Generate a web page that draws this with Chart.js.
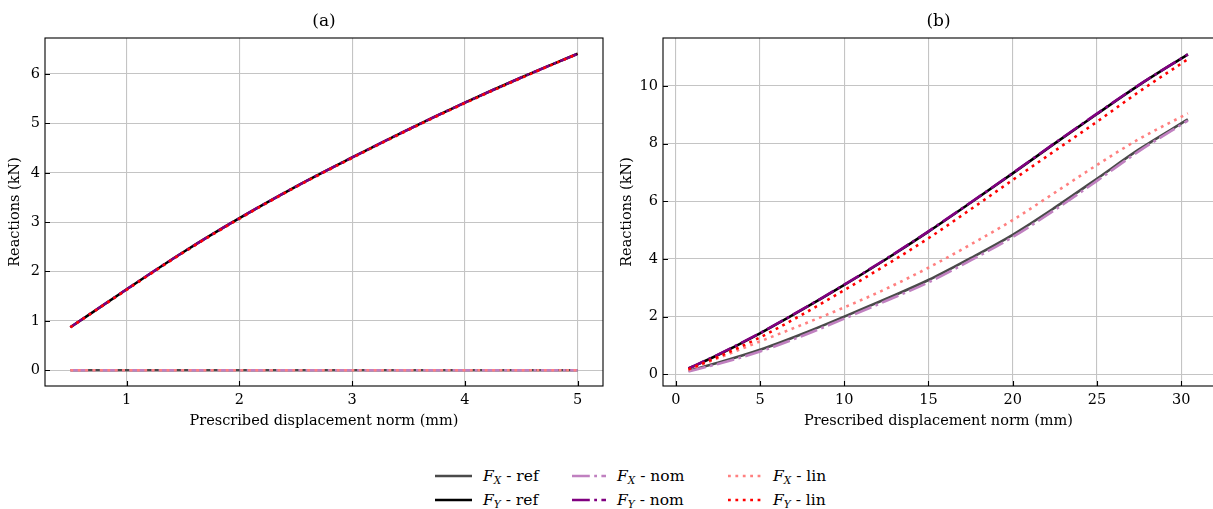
<!DOCTYPE html>
<html>
<head>
<meta charset="utf-8">
<script src="https://cdn.jsdelivr.net/npm/chart.js@4.4.1/dist/chart.umd.min.js"></script>
<style>
  html, body { margin: 0; padding: 0; background: #fff; overflow: hidden; }
  body { width: 1213px; height: 509px; position: relative; font-family: 'DejaVu Serif', 'Liberation Serif', serif; }
  .panel { position: absolute; top: 0; height: 440px; }
  #panelA { left: 0; width: 612px; }
  #panelB { left: 612px; width: 610px; }
  .legend-item { position: absolute; height: 20px; font-size: 15.5px; color: #000; white-space: nowrap; }
  .legend-item svg { position: absolute; left: 0; top: 0; }
  .legend-item span { position: absolute; top: 0; line-height: 20px; }
  .legend-item sub { font-size: 10.5px; vertical-align: -3px; }
</style>
</head>
<body>
<div class="panel" id="panelA"><canvas id="chartA"></canvas></div>
<div class="panel" id="panelB"><canvas id="chartB"></canvas></div>
<div id="legend"></div>

<script>
// (a) prescribed displacement norm (mm) and reactions (kN)
const dispA = [0.5, 1, 1.5, 2, 2.5, 3, 3.5, 4, 4.5, 5];
const fxRefA = [0, 0, 0, 0, 0, 0, 0, 0, 0, 0];
const fyRefA = [0.87, 1.64, 2.39, 3.08, 3.72, 4.31, 4.88, 5.42, 5.93, 6.41];
const fxNomA = [0, 0, 0, 0, 0, 0, 0, 0, 0, 0];
const fyNomA = [0.87, 1.64, 2.39, 3.08, 3.72, 4.31, 4.88, 5.42, 5.93, 6.41];
const fxLinA = [0, 0, 0, 0, 0, 0, 0, 0, 0, 0];
const fyLinA = [0.87, 1.63, 2.38, 3.07, 3.71, 4.30, 4.87, 5.41, 5.92, 6.41];

// (b)
const dispB = [0.75, 2.5, 5, 7.5, 10, 12.5, 15, 17.5, 20, 22.5, 25, 27.5, 30.4];
const fxRefB = [0.12, 0.40, 0.85, 1.40, 2.00, 2.62, 3.27, 4.03, 4.84, 5.78, 6.78, 7.80, 8.84];
const fyRefB = [0.20, 0.67, 1.42, 2.24, 3.10, 4.00, 4.95, 5.95, 6.97, 8.01, 9.03, 10.03, 11.10];
const fxNomB = [0.10, 0.36, 0.79, 1.33, 1.93, 2.55, 3.19, 3.95, 4.76, 5.70, 6.71, 7.74, 8.80];
const fyNomB = [0.20, 0.68, 1.43, 2.25, 3.11, 4.01, 4.96, 5.96, 6.98, 8.02, 9.04, 10.04, 11.10];
const fxLinB = [0.15, 0.56, 1.14, 1.72, 2.32, 2.97, 3.70, 4.50, 5.35, 6.30, 7.26, 8.16, 9.05];
const fyLinB = [0.17, 0.60, 1.28, 2.07, 2.92, 3.80, 4.72, 5.72, 6.74, 7.75, 8.76, 9.80, 10.93];

const xTicksA = [1, 2, 3, 4, 5];
const yTicksA = [0, 1, 2, 3, 4, 5, 6];
const xTicksB = [0, 5, 10, 15, 20, 25, 30];
const yTicksB = [0, 2, 4, 6, 8, 10];

const seriesStyle = {
  fxRef: { label: 'F_X - ref', color: '#4a4a4a', dash: [], order: 6 },
  fyRef: { label: 'F_Y - ref', color: '#000000', dash: [], order: 5 },
  fxNom: { label: 'F_X - nom', color: '#c080c0', dash: [17.8, 4.4, 2.8, 4.4], order: 4 },
  fyNom: { label: 'F_Y - nom', color: '#800080', dash: [17.8, 4.4, 2.8, 4.4], order: 3 },
  fxLin: { label: 'F_X - lin', color: '#ff8080', dash: [2.8, 4.6], order: 2 },
  fyLin: { label: 'F_Y - lin', color: '#ff0000', dash: [2.8, 4.6], order: 1 }
};

const serif = "'DejaVu Serif', 'Liberation Serif', serif";

function toPoints(xs, ys) {
  return xs.map((x, i) => ({ x: x, y: ys[i] }));
}

function makeDataset(key, xs, ys) {
  const s = seriesStyle[key];
  return {
    label: s.label,
    data: toPoints(xs, ys),
    showLine: true,
    borderColor: s.color,
    backgroundColor: s.color,
    borderWidth: 2.6,
    borderDash: s.dash,
    borderCapStyle: 'butt',
    pointRadius: 0,
    cubicInterpolationMode: 'monotone',
    order: s.order
  };
}

// box round the plot, inward tick marks and the panel letter
const framePlugin = {
  id: 'frame',
  afterDatasetsDraw(chart, args, opts) {
    const { ctx, chartArea: a, scales } = chart;
    ctx.save();
    ctx.strokeStyle = '#000';
    ctx.lineWidth = 1.1;
    ctx.strokeRect(a.left, a.top, a.right - a.left, a.bottom - a.top);
    ctx.beginPath();
    scales.x.ticks.forEach(t => {
      const px = Math.round(scales.x.getPixelForValue(t.value)) + 0.5;
      ctx.moveTo(px, a.bottom);
      ctx.lineTo(px, a.bottom - 5);
    });
    scales.y.ticks.forEach(t => {
      const py = Math.round(scales.y.getPixelForValue(t.value)) + 0.5;
      ctx.moveTo(a.left, py);
      ctx.lineTo(a.left + 5, py);
    });
    ctx.stroke();
    ctx.fillStyle = '#000';
    ctx.font = '17px ' + serif;
    ctx.textAlign = 'center';
    ctx.textBaseline = 'middle';
    ctx.fillText(opts.text, (a.left + a.right) / 2, 22);
    ctx.restore();
  }
};

function axisOptions(min, max, ticks, isX, size) {
  return {
    type: 'linear',
    min: min,
    max: max,
    afterBuildTicks: scale => { scale.ticks = ticks.map(v => ({ value: v })); },
    afterFit: scale => {
      if (isX) scale.height = size; else scale.width = size;
    },
    border: { display: false },
    grid: { color: '#c4c4c4', lineWidth: 1.1, drawTicks: false },
    ticks: {
      color: '#000',
      font: { family: serif, size: 14.5 },
      padding: isX ? 6 : 5,
      maxRotation: 0
    },
    title: {
      display: true,
      text: isX ? 'Prescribed displacement norm (mm)' : 'Reactions (kN)',
      color: '#000',
      font: { family: serif, size: 14.5 },
      padding: isX ? { top: 0, bottom: 10 } : { top: 7, bottom: 0 }
    }
  };
}

function makeChart(id, panel, xs, series, xr, yr, xt, yt, yAxisWidth, padRight) {
  return new Chart(document.getElementById(id), {
    type: 'scatter',
    data: {
      datasets: [
        makeDataset('fxRef', xs, series[0]),
        makeDataset('fyRef', xs, series[1]),
        makeDataset('fxNom', xs, series[2]),
        makeDataset('fyNom', xs, series[3]),
        makeDataset('fxLin', xs, series[4]),
        makeDataset('fyLin', xs, series[5])
      ]
    },
    options: {
      responsive: true,
      maintainAspectRatio: false,
      animation: false,
      layout: { padding: { top: 38, right: padRight, bottom: 0, left: 0 } },
      plugins: {
        legend: { display: false },
        tooltip: { enabled: false },
        frame: { text: panel }
      },
      scales: {
        x: axisOptions(xr[0], xr[1], xt, true, 54),
        y: axisOptions(yr[0], yr[1], yt, false, yAxisWidth)
      }
    },
    plugins: [framePlugin]
  });
}

makeChart('chartA', '(a)', dispA, [fxRefA, fyRefA, fxNomA, fyNomA, fxLinA, fyLinA],
  [0.275, 5.225], [-0.32, 6.73], xTicksA, yTicksA, 45, 9);
makeChart('chartB', '(b)', dispB, [fxRefB, fyRefB, fxNomB, fyNomB, fxLinB, fyLinB],
  [-0.76, 31.95], [-0.406, 11.665], xTicksB, yTicksB, 51, 8);

// shared legend below both panels
const legendLayout = [
  { key: 'fxRef', left: 435, top: 466, w: 37 },
  { key: 'fyRef', left: 435, top: 490, w: 37 },
  { key: 'fxNom', left: 572, top: 466, w: 34 },
  { key: 'fyNom', left: 572, top: 490, w: 34 },
  { key: 'fxLin', left: 728, top: 466, w: 34 },
  { key: 'fyLin', left: 728, top: 490, w: 34 }
];
const legendEl = document.getElementById('legend');
legendLayout.forEach(item => {
  const s = seriesStyle[item.key];
  const parts = s.label.split(' - ');
  const sub = parts[0].split('_')[1];
  const div = document.createElement('div');
  div.className = 'legend-item';
  div.style.left = item.left + 'px';
  div.style.top = item.top + 'px';
  div.innerHTML =
    '<svg width="' + item.w + '" height="20"><line x1="0" y1="10" x2="' + item.w + '" y2="10" stroke="' + s.color +
    '" stroke-width="2.6" stroke-dasharray="' + (s.dash.length ? s.dash.join(' ') : 'none') + '"/></svg>' +
    '<span style="left:' + (item.w + 11) + 'px"><i>F</i><sub><i>' + sub + '</i></sub> - ' + parts[1] + '</span>';
  legendEl.appendChild(div);
});
</script>
</body>
</html>
